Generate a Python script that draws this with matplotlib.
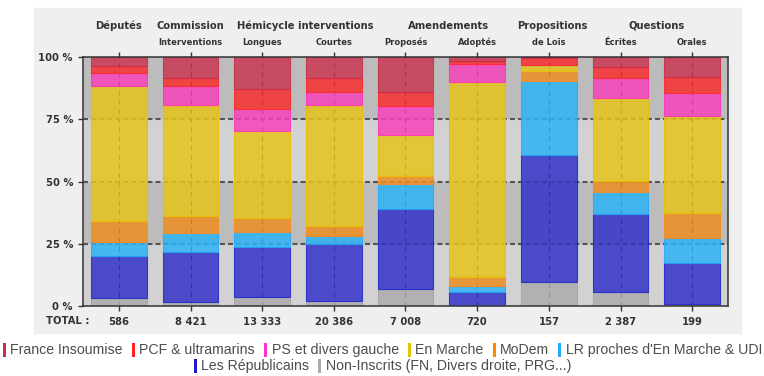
import numpy as np
import matplotlib
matplotlib.use('Agg')
import matplotlib.pyplot as plt
from matplotlib.patches import Rectangle
from matplotlib.transforms import IdentityTransform

plt.rcParams['lines.scale_dashes'] = False
plt.rcParams['font.family'] = 'DejaVu Sans'

# categories
groups = ['Députés', 'Commission', 'Hémicycle interventions', 'Amendements',
          'Propositions', 'Questions']
group_x = [0, 1, 2.6, 4.6, 6.05, 7.5]
sub_labels = ['', 'Interventions', 'Longues', 'Courtes', 'Proposés', 'Adoptés',
              'de Lois', 'Écrites', 'Orales']
totals = ['586', '8 421', '13 333', '20 386', '7 008', '720', '157', '2 387', '199']

# parts en % (de bas en haut)
non_inscrits = [3.1, 1.7, 3.6, 2.0, 6.8, 0.0, 9.6, 5.6, 0.8]
republicains = [17.0, 20.1, 20.0, 23.0, 32.2, 5.5, 51.0, 31.5, 16.6]
lr_proches = [5.7, 7.4, 6.2, 3.0, 9.9, 2.5, 29.9, 8.8, 9.9]
modem = [8.5, 6.9, 5.5, 4.2, 3.3, 3.5, 3.8, 4.4, 10.2]
en_marche = [54.1, 44.6, 35.1, 48.5, 16.5, 78.3, 2.6, 33.1, 38.7]
ps = [5.2, 7.7, 8.8, 5.2, 11.6, 7.4, 0.0, 8.3, 9.5]
pcf = [2.8, 3.3, 7.9, 5.5, 5.8, 1.3, 2.5, 4.4, 6.4]
fi = [3.6, 8.3, 12.9, 8.6, 13.9, 1.5, 0.6, 3.9, 7.9]

series = [non_inscrits, republicains, lr_proches, modem, en_marche, ps, pcf, fi]
fills = ['#acacac', '#3434c8', '#2db3f5', '#ee8d21', '#e5c41a', '#f743bb', '#f72f2f', '#ca3952']
edges = ['#a4a4a4', '#2222cc', '#22aaff', '#ff8c1a', '#e8c000', '#ff33bb', '#ff2a2a', '#cc2a48']

legend_names = ['France Insoumise', 'PCF & ultramarins', 'PS et divers gauche', 'En Marche',
                'MoDem', "LR proches d'En Marche & UDI", 'Les Républicains',
                'Non-Inscrits (FN, Divers droite, PRG...)']
legend_cols = ['#cc2a4a', '#ff2222', '#ff33cc', '#e6c200', '#ff8800', '#22aaff', '#1c1cc8', '#aaaaaa']

W, H = 764, 376
fig = plt.figure(figsize=(W / 100, H / 100), dpi=100)
fig.add_artist(Rectangle((34 / W, 43 / H), 707 / W, 325 / H, transform=fig.transFigure,
                         color='#efefef', zorder=-5))
ax = fig.add_axes([83 / W, 70 / H, 645 / W, 249 / H])
ax.set_facecolor('none')

n = len(totals)
x = np.arange(n)
ax.set_xlim(-0.5, n - 0.5)
ax.set_ylim(0, 100)

# bandes de fond
for lo, c in zip([0, 25, 50, 75], ['#d2d2d2', '#bcbcbc', '#d2d2d2', '#bcbcbc']):
    ax.axhspan(lo, lo + 25, color=c, zorder=0, lw=0)

for yv in [25, 50, 75]:
    ax.axhline(yv, color='#555555', lw=1.5, dashes=(3.6, 2.2), zorder=1)
for xv in x:
    ax.axvline(xv, color='#1a1a1a', lw=0.8, dashes=(3.6, 3.0), zorder=1)

bottom = np.zeros(n)
for vals, fc, ec in zip(series, fills, edges):
    vals = np.array(vals)
    ax.bar(x, vals, 0.78, bottom=bottom, color=fc, edgecolor=ec, linewidth=0.8,
           alpha=0.85, zorder=2)
    bottom += vals

for s in ax.spines.values():
    s.set_color('#333333')
    s.set_linewidth(1.1)
    s.set_zorder(3)

ax.set_yticks([0, 25, 50, 75, 100])
ax.set_yticklabels([f'{v} %' for v in [0, 25, 50, 75, 100]], fontweight='bold')
ax.tick_params(axis='y', length=3.6, width=1, color='#333333', pad=3.6,
               labelsize=7.2, labelcolor='#333333')
ax.set_xticks(x)
ax.set_xticklabels(totals, fontweight='bold')
ax.tick_params(axis='x', top=True, bottom=True, length=3.6, width=1, color='#333333',
               pad=4, labelsize=7.2, labelcolor='#333333')

tr = ax.get_xaxis_transform()
for g, gx in zip(groups, group_x):
    ax.text(gx, 1.1245, g, transform=tr, ha='center', va='center', fontsize=7.2,
            fontweight='bold', color='#333333')
for sl, sx in zip(sub_labels, x):
    ax.text(sx, 1.06, sl, transform=tr, ha='center', va='center', fontsize=6,
            fontweight='bold', color='#333333')
fig.text(67.6 / W, (H - 320.5) / H, 'TOTAL :', ha='center', va='center', fontsize=7.2,
         fontweight='bold', color='#333333')

# légende
fig.canvas.draw()
r = fig.canvas.get_renderer()
rows = [[0, 1, 2, 3, 4, 5], [6, 7]]
for row, yc in zip(rows, [H - 350, H - 366]):
    items = []
    for i in row:
        t = fig.text(0, yc, legend_names[i], transform=IdentityTransform(), ha='left',
                     va='center', fontsize=10.15, color='#4d4d4d', family='Liberation Sans')
        items.append((i, t, t.get_window_extent(r).width))
    total = sum(7.6 + w for _, _, w in items) + 9 * (len(items) - 1)
    xs = 382.5 - total / 2
    for i, t, w in items:
        fig.add_artist(Rectangle((xs, yc - 7.3), 3, 14.6, transform=IdentityTransform(),
                                 color=legend_cols[i], lw=0))
        t.set_x(xs + 7.6)
        xs += 7.6 + w + 9

fig.savefig('out.png', dpi=100)
